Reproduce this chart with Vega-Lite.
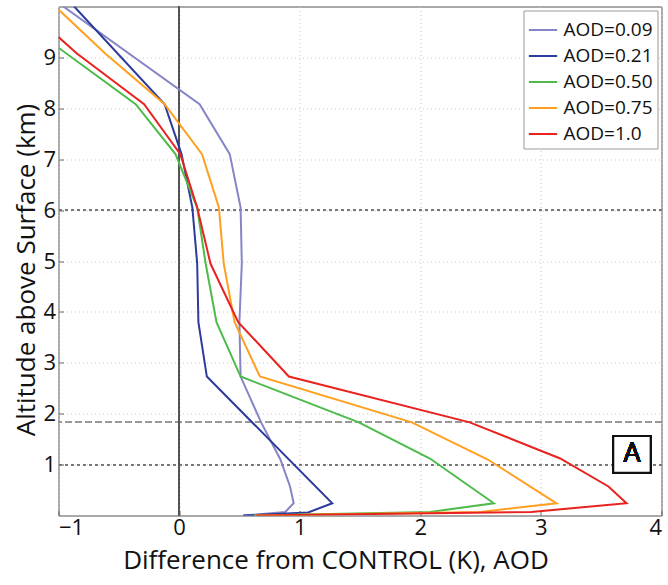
{
  "$schema": "https://vega.github.io/schema/vega-lite/v6.json",
  "autosize": {"type": "none"},
  "padding": {"left": 58.5, "top": 6.5, "right": 6.5, "bottom": 69.5},
  "width": 603,
  "height": 509,
  "config": {
    "font": "Open Sans",
    "view": {"stroke": "#555", "strokeWidth": 1},
    "axis": {
      "labelFont": "Open Sans", "titleFont": "Open Sans",
      "labelFontSize": 22, "titleFontSize": 26, "titleFontWeight": "normal",
      "labelColor": "#111", "titleColor": "#111",
      "domain": false, "ticks": true, "tickSize": -5, "tickColor": "#666",
      "grid": true, "gridColor": "#c8c8c8", "gridDash": [1, 3], "gridWidth": 1
    },
    "legend": {
      "labelFont": "Open Sans", "labelFontSize": 19, "labelColor": "#111",
      "orient": "top-right", "offset": 4, "padding": 4,
      "strokeColor": "#999", "fillColor": "white",
      "symbolType": "stroke", "symbolStrokeWidth": 2, "symbolSize": 800,
      "rowPadding": -3, "labelOffset": 5, "title": null
    }
  },
  "data": {"values": [
    {"aod": "AOD=0.09", "x": 0.54, "alt": 0.0},
    {"aod": "AOD=0.09", "x": 0.88, "alt": 0.07},
    {"aod": "AOD=0.09", "x": 0.95, "alt": 0.24},
    {"aod": "AOD=0.09", "x": 0.92, "alt": 0.57},
    {"aod": "AOD=0.09", "x": 0.84, "alt": 1.1},
    {"aod": "AOD=0.09", "x": 0.68, "alt": 1.83},
    {"aod": "AOD=0.09", "x": 0.51, "alt": 2.73},
    {"aod": "AOD=0.09", "x": 0.5, "alt": 3.8},
    {"aod": "AOD=0.09", "x": 0.52, "alt": 4.95},
    {"aod": "AOD=0.09", "x": 0.51, "alt": 6.05},
    {"aod": "AOD=0.09", "x": 0.42, "alt": 7.1},
    {"aod": "AOD=0.09", "x": 0.17, "alt": 8.08},
    {"aod": "AOD=0.09", "x": -0.96, "alt": 10.0},

    {"aod": "AOD=0.21", "x": 0.53, "alt": 0.0},
    {"aod": "AOD=0.21", "x": 1.07, "alt": 0.06},
    {"aod": "AOD=0.21", "x": 1.27, "alt": 0.24},
    {"aod": "AOD=0.21", "x": 0.23, "alt": 2.73},
    {"aod": "AOD=0.21", "x": 0.16, "alt": 3.8},
    {"aod": "AOD=0.21", "x": 0.15, "alt": 4.95},
    {"aod": "AOD=0.21", "x": 0.11, "alt": 6.05},
    {"aod": "AOD=0.21", "x": 0.02, "alt": 7.1},
    {"aod": "AOD=0.21", "x": -0.12, "alt": 8.08},
    {"aod": "AOD=0.21", "x": -0.87, "alt": 10.0},

    {"aod": "AOD=0.50", "x": 0.62, "alt": 0.0},
    {"aod": "AOD=0.50", "x": 2.08, "alt": 0.07},
    {"aod": "AOD=0.50", "x": 2.61, "alt": 0.24},
    {"aod": "AOD=0.50", "x": 2.08, "alt": 1.12},
    {"aod": "AOD=0.50", "x": 1.49, "alt": 1.83},
    {"aod": "AOD=0.50", "x": 0.51, "alt": 2.73},
    {"aod": "AOD=0.50", "x": 0.31, "alt": 3.8},
    {"aod": "AOD=0.50", "x": 0.22, "alt": 4.95},
    {"aod": "AOD=0.50", "x": 0.15, "alt": 6.05},
    {"aod": "AOD=0.50", "x": -0.03, "alt": 7.1},
    {"aod": "AOD=0.50", "x": -0.36, "alt": 8.08},
    {"aod": "AOD=0.50", "x": -1.0, "alt": 9.19},

    {"aod": "AOD=0.75", "x": 0.63, "alt": 0.0},
    {"aod": "AOD=0.75", "x": 2.5, "alt": 0.07},
    {"aod": "AOD=0.75", "x": 3.13, "alt": 0.24},
    {"aod": "AOD=0.75", "x": 2.56, "alt": 1.1},
    {"aod": "AOD=0.75", "x": 1.93, "alt": 1.83},
    {"aod": "AOD=0.75", "x": 0.67, "alt": 2.73},
    {"aod": "AOD=0.75", "x": 0.46, "alt": 3.8},
    {"aod": "AOD=0.75", "x": 0.37, "alt": 4.95},
    {"aod": "AOD=0.75", "x": 0.33, "alt": 6.05},
    {"aod": "AOD=0.75", "x": 0.19, "alt": 7.1},
    {"aod": "AOD=0.75", "x": -0.12, "alt": 8.08},
    {"aod": "AOD=0.75", "x": -0.61, "alt": 9.07},
    {"aod": "AOD=0.75", "x": -1.0, "alt": 9.94},

    {"aod": "AOD=1.0", "x": 0.64, "alt": 0.0},
    {"aod": "AOD=1.0", "x": 2.92, "alt": 0.07},
    {"aod": "AOD=1.0", "x": 3.71, "alt": 0.24},
    {"aod": "AOD=1.0", "x": 3.56, "alt": 0.57},
    {"aod": "AOD=1.0", "x": 3.16, "alt": 1.12},
    {"aod": "AOD=1.0", "x": 2.41, "alt": 1.83},
    {"aod": "AOD=1.0", "x": 0.91, "alt": 2.73},
    {"aod": "AOD=1.0", "x": 0.49, "alt": 3.8},
    {"aod": "AOD=1.0", "x": 0.26, "alt": 4.95},
    {"aod": "AOD=1.0", "x": 0.15, "alt": 6.05},
    {"aod": "AOD=1.0", "x": 0.01, "alt": 7.1},
    {"aod": "AOD=1.0", "x": -0.29, "alt": 8.08},
    {"aod": "AOD=1.0", "x": -0.85, "alt": 9.08},
    {"aod": "AOD=1.0", "x": -1.0, "alt": 9.4}
  ]},
  "layer": [
    {
      "mark": {"type": "rule", "color": "#777", "strokeDash": [2, 4], "strokeWidth": 1},
      "encoding": {"y": {"datum": 6, "type": "quantitative", "scale": {"domain": [0, 10], "nice": false}}}
    },
    {
      "mark": {"type": "rule", "color": "#777", "strokeDash": [2, 4], "strokeWidth": 1},
      "encoding": {"y": {"datum": 1, "type": "quantitative"}}
    },
    {
      "mark": {"type": "rule", "color": "#999", "strokeDash": [6, 4], "strokeWidth": 1.5},
      "encoding": {"y": {"datum": 1.83, "type": "quantitative"}}
    },
    {
      "mark": {"type": "rule", "color": "#555", "strokeWidth": 1.2},
      "encoding": {"x": {"datum": 0, "type": "quantitative"}}
    },
    {
      "mark": {"type": "line", "strokeWidth": 2, "clip": true},
      "encoding": {
        "x": {"field": "x", "type": "quantitative",
              "scale": {"domain": [-1, 4], "nice": false, "zero": false},
              "axis": {"values": [-1, 0, 1, 2, 3, 4], "format": "d", "title": "Difference from CONTROL (K), AOD",
                       "labelPadding": 7, "titlePadding": 9, "titleX": 277}},
        "y": {"field": "alt", "type": "quantitative",
              "scale": {"domain": [0, 10], "nice": false, "zero": false},
              "axis": {"values": [1, 2, 3, 4, 5, 6, 7, 8, 9], "format": "d", "title": "Altitude above Surface (km)",
                       "labelPadding": 8, "titlePadding": 3, "titleY": 263}},
        "color": {"field": "aod", "type": "nominal",
                  "scale": {"domain": ["AOD=0.09", "AOD=0.21", "AOD=0.50", "AOD=0.75", "AOD=1.0"],
                            "range": ["#8585c8", "#2c3b9c", "#4dbb4a", "#ffa020", "#e8231f"]},
                  "legend": {"title": null}},
        "order": {"field": "alt", "type": "quantitative"}
      }
    },
    {
      "mark": {"type": "rect", "fill": "white", "stroke": "#111", "strokeWidth": 2},
      "encoding": {
        "x": {"datum": 3.6, "type": "quantitative"},
        "x2": {"datum": 3.91},
        "y": {"datum": 0.84, "type": "quantitative"},
        "y2": {"datum": 1.56}
      }
    },
    {
      "mark": {"type": "text", "text": "A", "fontSize": 27, "font": "Open Sans", "color": "#111", "align": "center", "baseline": "middle"},
      "encoding": {
        "x": {"datum": 3.755, "type": "quantitative"},
        "y": {"datum": 1.2, "type": "quantitative"}
      }
    }
  ]
}
